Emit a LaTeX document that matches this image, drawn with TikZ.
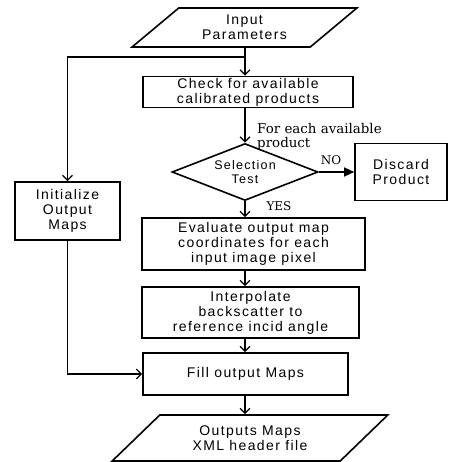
\documentclass[tikz,border=0pt]{standalone}
\usepackage{fontspec}
\setmainfont{Liberation Sans}[LetterSpace=10]
\newfontfamily\serlbl{DejaVu Serif}
\usetikzlibrary{shapes.geometric,arrows.meta}
\tikzset{
  boxline/.style={draw, line width=1.6pt},
  proc/.style={boxline, rectangle, inner sep=0pt, align=center,
    font=\fontsize{14}{15}\selectfont},
  iobox/.style={boxline, trapezium, trapezium left angle=40, trapezium right angle=140,
    trapezium stretches=true, inner sep=0pt, align=center,
    font=\fontsize{14}{15.5}\selectfont},
  decision/.style={boxline, diamond, aspect=3, inner sep=0pt, align=center,
    font=\fontsize{12.5}{13.5}\selectfont},
  conn/.style={line width=1.3pt, -{Straight Barb[length=5pt,width=10pt]}},
  connfill/.style={line width=1.3pt, -{Triangle[length=10pt,width=9pt]}},
  serlab/.style={inner sep=0pt, align=left, font=\serlbl\fontsize{13.4}{14}\selectfont},
  yn/.style={inner sep=0pt, font=\serlbl\fontsize{12}{14}\selectfont},
}
\begin{document}
\begin{tikzpicture}[x=1pt,y=-1pt]
\useasboundingbox (0,0) rectangle (449,462);
\node[iobox, minimum width=225pt, minimum height=39pt] (inp) at (244.5,27.5) {Input\\Parameters};
\node[proc, minimum width=210pt, minimum height=31pt] (chk) at (248,92) {Check for available\\calibrated products};
\node[decision, minimum width=146pt, minimum height=57pt] (sel) at (245,172) {Selection\\Test};
\node[proc, minimum width=92pt, minimum height=57pt] (disc) at (401,172) {Discard\\Product};
\node[proc, minimum width=105pt, minimum height=58pt] (init) at (67.5,211) {Initialize\\Output\\Maps};
\node[proc, minimum width=223pt, minimum height=52pt] (eval) at (253.5,244) {Evaluate output map\\coordinates for each\\input image pixel};
\node[proc, minimum width=217pt, minimum height=51pt] (interp) at (250.5,312.5) {Interpolate\\backscatter to\\reference incid angle};
\node[proc, minimum width=205pt, minimum height=42pt] (fill) at (245.5,374) {Fill output Maps};
\node[iobox, minimum width=276pt, minimum height=46pt] (out) at (250,438) {Outputs Maps\\XML header file};
\coordinate (mx) at (245,0);
\coordinate (br) at (245,57);
\node[serlab, anchor=north west] (lab) at (257,123) {For each available\\product};
\node[yn] (no) at (331,160) {NO};
\node[yn] (yes) at (279,206) {YES};
\draw[conn] (mx |- inp.south) -- (mx |- chk.north);
\draw[conn] (br) -| (init.north);
\draw[conn] (mx |- chk.south) -- (sel.north);
\draw[connfill] (sel.east) -- (disc.west);
\draw[conn] (sel.south) -- (mx |- eval.north);
\draw[conn] (mx |- eval.south) -- (mx |- interp.north);
\draw[conn] (mx |- interp.south) -- (mx |- fill.north);
\draw[conn] (init.south) |- (fill.west);
\draw[conn] (mx |- fill.south) -- (mx |- out.north);
\end{tikzpicture}
\end{document}
